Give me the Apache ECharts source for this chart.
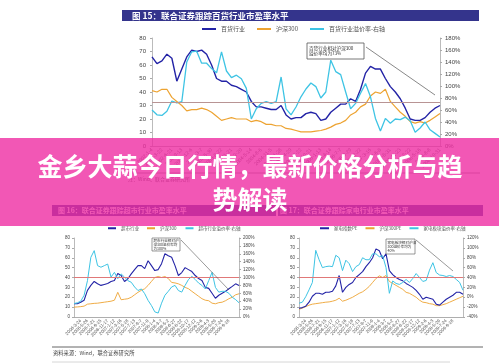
<!DOCTYPE html>
<html><head><meta charset="utf-8">
<script src="https://cdn.jsdelivr.net/npm/echarts@6/dist/echarts.min.js"></script>
<style>html,body{margin:0;padding:0;background:#fff}#c{width:499px;height:364px}</style>
</head><body><div id="c"></div>
<script>
// ---- Figure 15: 百货行业 ----
var topDates = ["2002-1-4","2002-2-8","2002-3-22","2002-5-10","2002-6-21","2002-8-2","2002-9-13","2002-10-25","2002-12-6","2003-1-17","2003-3-7","2003-4-18","2003-5-30","2003-7-11","2003-8-22","2003-10-10","2003-11-21","2004-1-2","2004-2-20","2004-4-2","2004-5-14","2004-6-25","2004-8-6","2004-9-17","2004-11-5","2004-12-17","2005-1-28","2005-3-18","2005-4-29","2005-6-10","2005-7-22","2005-9-2","2005-10-21","2005-12-2","2006-1-13","2006-3-3","2006-4-14","2006-5-26","2006-7-7","2006-8-18","2006-9-29","2006-11-10","2006-12-22","2007-2-2","2007-3-16","2007-4-27","2007-6-8","2007-7-20","2007-8-31","2007-10-12","2007-11-23","2008-1-4","2008-2-22","2008-4-3","2008-5-16","2008-6-27","2008-8-8","2008-9-19","2008-10-31"];
var deptPE = [66,61,63,68,65,48,57,66,71,70,71,68,60,50,48,48,45,44,42,40,33,29,29,28,27,27,30,23,20,
              21,21,24,25,24,19,20,25,28,31,31,35,33,42,54,59,57,57,50,44,40,35,28,20,19,19,21,25,28,30];
var deptHS300 = [41,40,42,42,36,33,30,26,27,27,28,27,25,22,19,20,21,20,20,20,18,19,18,16,16,15,15,13,12.5,
                 11.5,10.5,10.5,10.5,11,11.5,12.5,14,16,17,19,23,25,29,31,37,40,39,42,33,29,25,22,18,17,18,17,19,21.5,24];
var deptPrem = [60,52,51,58,75,72,74,140,157,158,138,138,129,122,157,125,114,118,112,96,45,62,71,74,71,74,115,62,52,
                65,82,95,105,99,80,90,143,124,119,90,62,71,88,104,82,46,25,46,38,45,44,48,42,23,30,40,27,21,15];
var deptPremAvg = 73;

// ---- Figure 16 / 17 shared dates ----
var bottomDates = ["2006-1-26","2006-2-24","2006-3-24","2006-4-21","2006-5-26","2006-6-23","2006-7-21","2006-8-18","2006-9-15","2006-10-20","2006-11-17","2006-12-15","2007-1-12","2007-2-9","2007-3-16","2007-4-13","2007-5-18","2007-6-15","2007-7-13","2007-8-10","2007-9-7","2007-10-12","2007-11-9","2007-12-7","2008-1-4","2008-2-1","2008-3-7","2008-4-3","2008-5-2","2008-5-30","2008-6-27","2008-7-25","2008-8-22","2008-9-19","2008-10-17","2008-11-14","2008-12-12","2009-1-9","2009-2-6","2009-3-6","2009-4-3","2009-5-1","2009-5-29","2009-6-26","2009-7-24","2009-8-21","2009-9-18","2009-10-16","2009-11-13","2009-12-11"];

// ---- Figure 16: 超市行业 ----
var smPE = [13.4,13.4,15,17,27,32,36,33.6,32,33,34,36,37,44,42,36,38.7,43.7,48,52,52,49,57,52,47,48,54,64,62,60.5,52,42,45,50,48,46,42,39,37,30,29,24,19,22,24,26,28.6,31,33.6,32];
var smHS300 = [10,10.2,10.5,11,13,13.4,13.8,14,14.5,15,15.5,16,17,25,17.5,18,18.5,20,22.5,25,27,28.6,32,36,40,41,40,41,39,35,34.5,33.6,32,30,28.6,26,23.5,21,18.5,17,16.5,14,13.4,14.5,15,16.5,18.5,20,22.5,23.5];
var smPrem = [34,36,40,55,92,151,168,130,126,130,134,101,113,97,109,101,92,88,76,67,71,59,42,29,13,10,35,55,65,76,80,67,63,80,95,103,95,86,80,71,92,113,75,63,65,65,60,50,44,36];
var smPremAvg = 100;

// ---- Figure 17: 家电行业 ----
var jdPE = [8.8,9.5,11,15,21,24,24,23,25,25,26,31.5,42,25,30,33,35,40,43,46,51,55,60,69,67,59,64,47,43,40,38,36.6,34,32,30,27,23,18,20,19,18,13,12,15,18,20,22,25,25,23];
var jdHS300 = [7.8,9,10.5,12,13,13.5,14,14.5,15,15.3,16,17,19,16,17,18.5,20,22,24,25.5,28,31,35,39,41.7,40,42,36,34,32,30,28,25,24,22,20,17,15,14.5,13.5,13,11.5,11.5,12.5,13.5,15,16.5,18,19.5,21];
var jdPrem = [-12,-10,1,15,30,95,76,60,62,63,62,85,80,54,75,68,52,62,66,80,76,76,88,88,82,84,60,8,33,28,26,30,36,30,38,48,40,32,34,55,70,50,45,44,42,44,42,36,30,14];
var jdPremAvg = 40;

var titles = ["图 15：联合证券跟踪百货行业市盈率水平","图 16：联合证券跟踪超市行业市盈率水平","图 17：联合证券跟踪家电行业市盈率水平"];
var bannerLines = ["金乡大蒜今日行情，最新价格分析与趋","势解读"];

var C_BLUE = '#2323a6', C_ORANGE = '#eda331', C_CYAN = '#3ec4e4';
var FONT = '"Noto Sans CJK SC","Liberation Sans",sans-serif';

function yAx(grid, min, max, itv, pos, pct, fs, margin){
  return {type:'value', gridIndex:grid, min:min, max:max, interval:itv, position:pos,
    axisLine:{show:true, lineStyle:{color:'#aaa', width:0.8}},
    axisTick:{show:true, length:2, lineStyle:{color:'#aaa'}},
    splitLine:{show:false},
    axisLabel:{fontSize:fs, color:'#444', margin:margin, fontFamily:'"Liberation Sans",sans-serif',
      formatter: pct ? '{value}%' : '{value}'}};
}
function xAx(grid, data, fs){
  return {type:'category', gridIndex:grid, data:data, boundaryGap:false,
    axisLine:{show:true, onZero:false, lineStyle:{color:'#999', width:0.8}},
    axisTick:{show:false},
    axisLabel:{fontSize:fs, color:'#555', rotate:45, interval:1, margin:3, fontFamily:'"Liberation Sans",sans-serif'}};
}
function ln(name, x, y, data, color, w, z){
  return {name:name, type:'line', xAxisIndex:x, yAxisIndex:y, data:data, symbol:'none',
    lineStyle:{color:color, width:w}, itemStyle:{color:color}, z:z||2};
}
function ref(series, val, color){
  series.markLine = {silent:true, symbol:'none', label:{show:false},
    lineStyle:{color:color, width:1, type:'solid'}, data:[{yAxis:val}]};
  return series;
}

var chart = echarts.init(document.getElementById('c'), null, {renderer:'canvas'});
var legendBase = {icon:'rect', itemHeight:2, orient:'horizontal', padding:0};

chart.setOption({
  animation:false,
  backgroundColor:'#fff',
  textStyle:{fontFamily:FONT},
  grid:[
    {left:152, right:59, top:38, bottom:218, outerBoundsMode:'none'},
    {left:74, right:260, top:238, bottom:47, outerBoundsMode:'none'},
    {left:299, right:36, top:238, bottom:47, outerBoundsMode:'none'}
  ],
  legend:[
    Object.assign({}, legendBase, {left:202, top:26, itemWidth:14, itemGap:12,
      textStyle:{fontSize:6, color:'#555', fontFamily:FONT},
      data:['百货行业','沪深300','百货行业溢价率-右轴']}),
    Object.assign({}, legendBase, {left:108, top:226, itemWidth:8, itemGap:8,
      textStyle:{fontSize:4.5, color:'#555', fontFamily:FONT},
      data:['超市行业','沪深300 ','超市行业溢价率-右轴']}),
    Object.assign({}, legendBase, {left:320, top:226, itemWidth:9, itemGap:8,
      textStyle:{fontSize:4.5, color:'#555', fontFamily:FONT},
      data:['家电指数PE','沪深300PE','家电板块溢价率-右轴']})
  ],
  xAxis:[xAx(0, topDates, 5), xAx(1, bottomDates, 4.5), xAx(2, bottomDates, 4.5)],
  yAxis:[
    yAx(0, 0, 80, 10, 'left', false, 6, 6),
    yAx(0, 0, 180, 20, 'right', true, 6, 5),
    yAx(1, 0, 80, 10, 'left', false, 4.5, 4),
    yAx(1, 0, 200, 20, 'right', true, 4.5, 4),
    yAx(2, 0, 80, 10, 'left', false, 4.5, 4),
    yAx(2, -40, 120, 20, 'right', true, 4.5, 4)
  ],
  series:[
    ln('百货行业', 0, 0, deptPE, C_BLUE, 1.4, 3),
    ln('沪深300', 0, 0, deptHS300, C_ORANGE, 1.2, 2),
    ref(ln('百货行业溢价率-右轴', 0, 1, deptPrem, C_CYAN, 1.3, 4), deptPremAvg, '#b89494'),
    ln('超市行业', 1, 2, smPE, C_BLUE, 1.1, 3),
    ln('沪深300 ', 1, 2, smHS300, C_ORANGE, 0.9, 2),
    ref(ln('超市行业溢价率-右轴', 1, 3, smPrem, C_CYAN, 1, 4), smPremAvg, '#e07878'),
    ln('家电指数PE', 2, 4, jdPE, C_BLUE, 1.1, 3),
    ln('沪深300PE', 2, 4, jdHS300, C_ORANGE, 0.9, 2),
    ref(ln('家电板块溢价率-右轴', 2, 5, jdPrem, C_CYAN, 1, 4), jdPremAvg, '#e07878')
  ],
  graphic:[
    {type:'rect', shape:{x:122, y:10, width:357, height:11}, style:{fill:'#34348c'}, z:5},
    {type:'text', x:132, y:15.8, style:{text:titles[0], fill:'#fff', font:'bold 8.5px '+FONT, textVerticalAlign:'middle'}, z:6},
    {type:'rect', shape:{x:307, y:43, width:57, height:16}, style:{fill:'#fff', stroke:'#555', lineWidth:0.8}, z:10},
    {type:'text', x:309, y:45, style:{text:'百货行业相对沪深300\n溢价率均为73%', fill:'#333', font:'4.6px '+FONT, lineHeight:5.5}, z:11},
    {type:'line', shape:{x1:366, y1:47, x2:435, y2:95}, style:{stroke:'#555', lineWidth:0.7}, z:10},
    {type:'line', shape:{x1:128, y1:173, x2:480, y2:173}, style:{stroke:'#777', lineWidth:0.8}, z:5},
    {type:'text', x:128, y:179, style:{text:'注：Wind、联合证券研究所', fill:'#444', font:'5px '+FONT, textVerticalAlign:'middle'}, z:5},
    {type:'rect', shape:{x:52, y:205, width:224, height:11}, style:{fill:'#34348c'}, z:5},
    {type:'rect', shape:{x:278, y:205, width:205, height:11}, style:{fill:'#34348c'}, z:5},
    {type:'text', x:58, y:210.5, style:{text:titles[1], fill:'#fff', font:'bold 7px '+FONT, textVerticalAlign:'middle'}, z:6},
    {type:'text', x:280, y:210.5, style:{text:titles[2], fill:'#fff', font:'bold 7px '+FONT, textVerticalAlign:'middle'}, z:6},
    {type:'rect', shape:{x:152, y:238, width:28, height:13}, style:{fill:'#fff', stroke:'#555', lineWidth:0.6}, z:10},
    {type:'text', x:153.5, y:239, style:{text:'超市行业相对沪\n深300溢价率均\n为100%', fill:'#333', font:'3.6px '+FONT, lineHeight:4}, z:11},
    {type:'line', shape:{x1:181, y1:240, x2:229, y2:290}, style:{stroke:'#555', lineWidth:0.6}, z:10},
    {type:'rect', shape:{x:386, y:239, width:29, height:15}, style:{fill:'#fff', stroke:'#555', lineWidth:0.6}, z:10},
    {type:'text', x:387.5, y:240.5, style:{text:'家电板块相对沪深\n300溢价率均为\n40%', fill:'#333', font:'3.6px '+FONT, lineHeight:4}, z:11},
    {type:'line', shape:{x1:416, y1:240, x2:453, y2:271}, style:{stroke:'#555', lineWidth:0.6}, z:10},
    {type:'line', shape:{x1:52, y1:347, x2:483, y2:347}, style:{stroke:'#555', lineWidth:0.9}, z:5},
    {type:'text', x:53, y:352.5, style:{text:'资料来源：Wind，联合证券研究所', fill:'#444', font:'5.3px '+FONT, textVerticalAlign:'middle'}, z:5},
    {type:'line', shape:{x1:52, y1:362, x2:450, y2:362}, style:{stroke:'#ccc', lineWidth:0.8}, z:5},
    {type:'rect', shape:{x:0, y:138, width:499, height:88}, style:{fill:'rgba(239,45,163,0.8)'}, z:100},
    {type:'text', x:250, y:166, style:{text:bannerLines[0], fill:'#fff', font:'bold 25px '+FONT, textAlign:'center', textVerticalAlign:'middle'}, z:101},
    {type:'text', x:250, y:199, style:{text:bannerLines[1], fill:'#fff', font:'bold 25px '+FONT, textAlign:'center', textVerticalAlign:'middle'}, z:101}
  ]
});
</script></body></html>
